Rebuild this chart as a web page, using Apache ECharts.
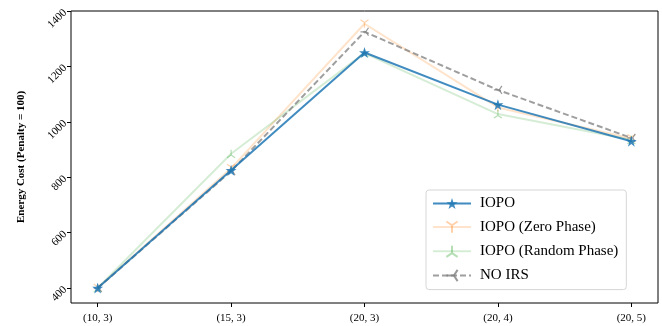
<!DOCTYPE html>
<html>
<head>
<meta charset="utf-8">
<script src="https://cdn.jsdelivr.net/npm/echarts@6/dist/echarts.min.js"></script>
<style>
  html, body { margin: 0; padding: 0; background: #fff; }
  #chart { width: 662px; height: 326px; }
</style>
</head>
<body>
<div id="chart"></div>
<script>
var categories = ['(10, 3)', '(15, 3)', '(20, 3)', '(20, 4)', '(20, 5)'];
var iopo = [400, 825, 1250, 1062, 930];
var zeroPhase = [400, 832, 1354, 1052, 940];
var randomPhase = [400, 885, 1248, 1028, 935];
var noIrs = [400, 822, 1325, 1115, 942];
var yTicks = [400, 600, 800, 1000, 1200, 1400];

var serif = '"Liberation Serif", "DejaVu Serif", serif';

// tri markers drawn as strokes
var triDown = 'path://M10,10 L10,20 M10,10 L1.34,5 M10,10 L18.66,5';
var triUp = 'path://M10,10 L10,0 M10,10 L1.34,15 M10,10 L18.66,15';
var triLeft = 'path://M10,10 L0,10 M10,10 L15,1.34 M10,10 L15,18.66';

function pts(arr) {
    return arr.map(function(v, i) { return [i, v]; });
}

var myChart = echarts.init(document.getElementById('chart'));

var option = {
    animation: false,
    grid: {
        left: 71, right: 4, top: 11, bottom: 23,
        show: true, borderColor: '#000', borderWidth: 1
    },
    legend: {
        orient: 'vertical',
        left: 426, top: 190,
        width: 225,
        padding: [6, 8, 6, 6],
        itemGap: 8,
        itemWidth: 38,
        itemHeight: 14,
        backgroundColor: '#fff',
        borderColor: '#d6d6d6',
        borderWidth: 1,
        borderRadius: 3,
        textStyle: { fontFamily: serif, fontSize: 15, color: '#000', padding: [0, 0, 0, 4] },
        data: ['IOPO', 'IOPO (Zero Phase)', 'IOPO (Random Phase)', 'NO IRS']
    },
    xAxis: {
        type: 'value',
        min: -0.2, max: 4.2,
        splitLine: { show: false },
        axisLine: { show: false, onZero: false },
        axisTick: { show: true, length: 4, inside: false, customValues: [0, 1, 2, 3, 4],
            lineStyle: { color: '#000', width: 1 } },
        axisLabel: {
            customValues: [0, 1, 2, 3, 4],
            fontFamily: serif, fontSize: 11, color: '#000', margin: 10,
            formatter: function(v) { return categories[Math.round(v)]; }
        }
    },
    yAxis: {
        type: 'value',
        min: 346, max: 1400,
        splitLine: { show: false },
        axisLine: { show: false, onZero: false },
        axisTick: { show: true, length: 4, customValues: yTicks,
            lineStyle: { color: '#000', width: 1 } },
        axisLabel: {
            customValues: yTicks,
            rotate: 45,
            fontFamily: serif, fontSize: 11, color: '#000', margin: 6,
            formatter: function(v) { return String(v); }
        },
        name: 'Energy Cost (Penalty = 100)',
        nameLocation: 'middle',
        nameGap: 44,
        nameTextStyle: { fontFamily: serif, fontSize: 11, fontWeight: 'bold', color: '#000' }
    },
    series: [{
        name: 'IOPO',
        type: 'line',
        data: pts(iopo),
        symbol: 'path://M50,0 L61.8,35.5 L99,35.5 L69,57.5 L80.5,93 L50,71 L19.5,93 L31,57.5 L1,35.5 L38.2,35.5 Z',
        symbolSize: 11,
        z: 5,
        lineStyle: { color: 'rgba(31,119,180,0.85)', width: 2 },
        itemStyle: { color: 'rgba(31,119,180,0.85)', borderWidth: 0 }
    }, {
        name: 'IOPO (Zero Phase)',
        type: 'line',
        data: pts(zeroPhase),
        symbol: triDown,
        symbolSize: 8,
        z: 3,
        lineStyle: { color: 'rgba(255,127,14,0.22)', width: 2 },
        itemStyle: { color: 'none', borderColor: 'rgba(255,127,14,0.35)', borderWidth: 1.2 }
    }, {
        name: 'IOPO (Random Phase)',
        type: 'line',
        data: pts(randomPhase),
        symbol: triUp,
        symbolSize: 8,
        z: 3,
        lineStyle: { color: 'rgba(44,160,44,0.2)', width: 2 },
        itemStyle: { color: 'none', borderColor: 'rgba(44,160,44,0.35)', borderWidth: 1.2 }
    }, {
        name: 'NO IRS',
        type: 'line',
        data: pts(noIrs),
        symbol: triLeft,
        symbolSize: 8,
        z: 4,
        lineStyle: { color: 'rgba(127,127,127,0.75)', width: 2, type: [6, 3] },
        itemStyle: { color: 'none', borderColor: 'rgba(127,127,127,0.8)', borderWidth: 1.2 }
    }]
};

myChart.setOption(option);
</script>
</body>
</html>
